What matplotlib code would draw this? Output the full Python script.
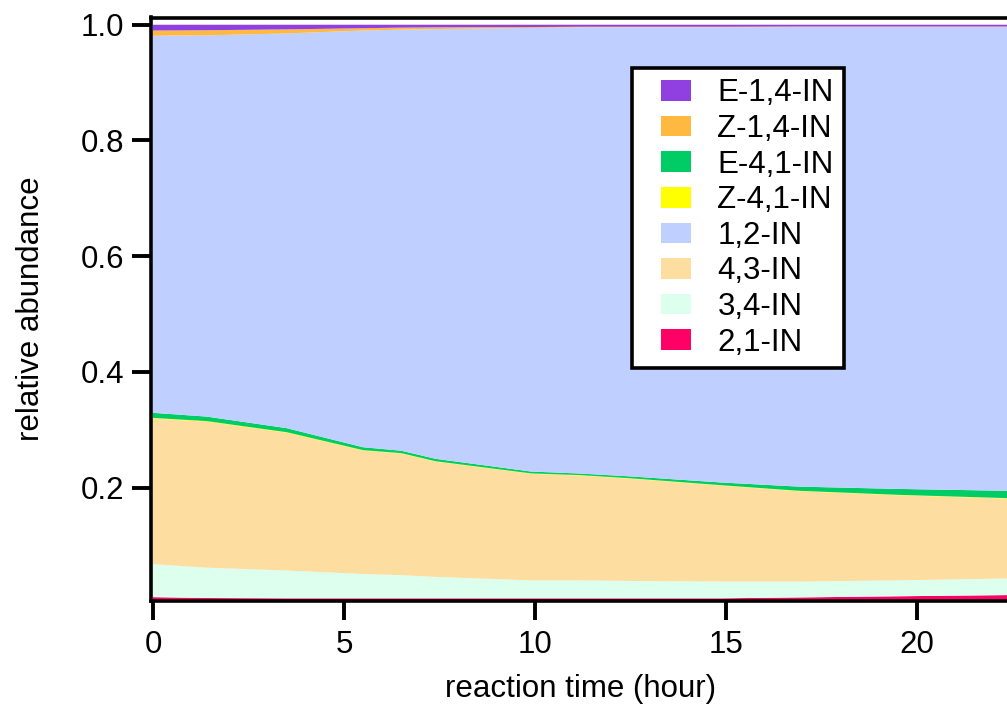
import matplotlib
matplotlib.use("Agg")
import matplotlib.pyplot as plt
from matplotlib.patches import Rectangle
from matplotlib.legend_handler import HandlerPatch

# ---- data ----
time_h = [0, 1.4, 3.5, 5.5, 6.5, 7.4, 9.9, 11.2, 12.5, 14.9, 16.9, 19.5, 23]

in_2_1 = [0.011, 0.0095, 0.009, 0.009, 0.009, 0.009, 0.009, 0.009, 0.009, 0.009, 0.0105, 0.0125, 0.015]
in_3_4 = [0.057, 0.0525, 0.048, 0.042, 0.040, 0.037, 0.031, 0.031, 0.030, 0.029, 0.0275, 0.0275, 0.029]
in_4_3 = [0.2515, 0.252, 0.238, 0.213, 0.210, 0.199, 0.184, 0.181, 0.1766, 0.1655, 0.156, 0.147, 0.136]
z_4_1 = [0.0012, 0.0012, 0.001, 0.001, 0.0008, 0.0008, 0.0008, 0.0008, 0.0008, 0.0008, 0.0008, 0.0008, 0.0008]
e_4_1 = [0.0088, 0.0078, 0.007, 0.005, 0.0042, 0.0042, 0.0032, 0.0027, 0.0032, 0.0047, 0.0072, 0.0102, 0.0132]
in_1_2 = [0.6515, 0.6587, 0.682, 0.720, 0.7275, 0.7425, 0.7665, 0.7708, 0.7759, 0.7865, 0.794, 0.798, 0.802]
z_1_4 = [0.009, 0.0088, 0.007, 0.004, 0.0035, 0.003, 0.0015, 0.0012, 0.001, 0.001, 0.001, 0.001, 0.001]
e_1_4 = [0.010, 0.0095, 0.008, 0.006, 0.005, 0.0045, 0.004, 0.0035, 0.0035, 0.0035, 0.003, 0.003, 0.003]

# stacking order (bottom -> top)
labels = ["2,1-IN", "3,4-IN", "4,3-IN", "Z-4,1-IN", "E-4,1-IN", "1,2-IN", "Z-1,4-IN", "E-1,4-IN"]
colors = ["#FF0066", "#DDFFEE", "#FDDDA0", "#FFFF00", "#00CC66", "#BFCFFF", "#FFB940", "#9040E0"]
# legend order (top -> bottom)
legend_order = ["E-1,4-IN", "Z-1,4-IN", "E-4,1-IN", "Z-4,1-IN", "1,2-IN", "4,3-IN", "3,4-IN", "2,1-IN"]

x_ticks = [0, 5, 10, 15, 20]
y_ticks = [0.2, 0.4, 0.6, 0.8, 1.0]

# ---- figure ----
plt.rcParams['font.family'] = ['Liberation Sans', 'DejaVu Sans']
FS = 22.5
W, H = 1007, 706
fig = plt.figure(figsize=(W / 100, H / 100), dpi=100)
ax_l, ax_b, ax_t = 150.5, 600.5, 17.5
ax = fig.add_axes([ax_l / W, 1 - ax_b / H, 1 - ax_l / W, (ax_b - ax_t) / H])

polys = ax.stackplot(time_h, in_2_1, in_3_4, in_4_3, z_4_1, e_4_1, in_1_2, z_1_4, e_1_4,
                     labels=labels, colors=colors, linewidth=0)

ax.set_xlim(-0.065, 22.36)
ax.set_ylim(0.0052, 1.0125)
ax.set_xticks(x_ticks)
ax.set_xticklabels([str(v) for v in x_ticks])
ax.set_yticks(y_ticks)
ax.set_yticklabels([f"{v:.1f}" for v in y_ticks])

for side in ["left", "bottom", "top"]:
    ax.spines[side].set_linewidth(2.6)
    ax.spines[side].set_color("black")
ax.spines["right"].set_visible(False)
ax.tick_params(axis="both", direction="out", length=14, width=2.8, labelsize=FS,
               colors="black")
ax.tick_params(axis="x", pad=7)
ax.tick_params(axis="y", pad=5)

ax.set_xlabel("reaction time (hour)", fontsize=FS)
ax.set_ylabel("relative abundance", fontsize=FS)
ax.xaxis.set_label_coords((581 - ax_l) / (W - ax_l), -(674 - ax_b) / (ax_b - ax_t))
ax.yaxis.set_label_coords(-(ax_l - 46) / (W - ax_l), 0.5)

# legend: patch on the right part of each handle box
PATCH_W = 30 * 0.72  # points


def make_patch(legend, orig_handle, xdescent, ydescent, width, height, fontsize):
    return Rectangle((-xdescent + width - PATCH_W, -ydescent), PATCH_W, height)


color_of = dict(zip(labels, colors))
proxies = [Rectangle((0, 0), 1, 1, facecolor=color_of[l], linewidth=0) for l in legend_order]
leg = ax.legend(proxies, legend_order, loc="upper left",
                bbox_to_anchor=(632 / W, 1 - 68 / H), bbox_transform=fig.transFigure,
                borderaxespad=0, fontsize=FS, frameon=True, fancybox=False,
                framealpha=1, edgecolor="black", facecolor="white",
                handlelength=1.55, handleheight=0.64, handletextpad=0.85,
                labelspacing=0.18, borderpad=0.33,
                handler_map={Rectangle: HandlerPatch(patch_func=make_patch)})
leg.get_frame().set_linewidth(2.6)
for h in leg.legend_handles:
    h.set_linewidth(0)

fig.savefig("out.png", dpi=100)
